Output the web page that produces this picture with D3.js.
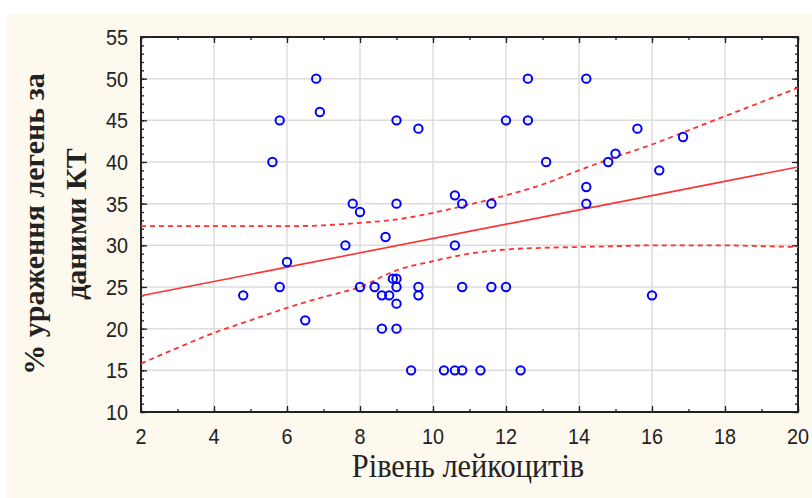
<!DOCTYPE html>
<html>
<head>
<meta charset="utf-8">
<script src="https://cdn.jsdelivr.net/npm/d3@7"></script>
<style>
  body { margin: 0; background: #fff; }
  .grid line { stroke: #dcdcdc; stroke-width: 1.5; }
  .axis path { display: none; }
  .axis line { stroke: #222; stroke-width: 1.3; }
  .ticklab text { font-family: "Liberation Sans", Arial, sans-serif; font-size: 22px; fill: #222; }
</style>
</head>
<body>
<div id="chart"></div>
<script>
// scatter data: leukocyte level vs % lung damage on CT
const leuko = [4.8, 5.6, 5.8, 5.8, 6.0, 6.5, 6.8, 6.9, 7.6, 7.8, 8.0, 8.0, 8.4, 8.6, 8.6, 8.7, 8.8,
  8.9, 9.0, 9.0, 9.0, 9.0, 9.0, 9.0, 9.4, 9.6, 9.6, 9.6, 10.3, 10.6, 10.8, 10.6, 10.6, 10.8, 10.8,
  11.3, 11.6, 11.6, 12.0, 12.0, 12.4, 12.6, 12.6, 13.1, 14.2, 14.2, 14.2, 14.8, 15.0, 15.6, 16.0, 16.2, 16.85];
const damage = [24, 40, 45, 25, 28, 21, 50, 46, 30, 35, 34, 25, 25, 24, 20, 31, 24,
  26, 26, 25, 23, 20, 35, 45, 15, 44, 25, 24, 15, 15, 15, 36, 30, 35, 25,
  15, 35, 25, 45, 25, 15, 50, 45, 40, 50, 37, 35, 40, 41, 44, 24, 39, 43];

// fitted line and 95% confidence band
const fitX = [2, 20];
const fitY = [23.95, 39.4];
const bandX = [2, 3, 4, 5, 6, 7, 8, 9, 10, 11, 12, 13, 14, 15, 16, 17, 18, 19, 20];
const upperY = [32.3, 32.3, 32.3, 32.3, 32.3, 32.4, 32.7, 33.1, 33.9, 34.9, 36.0, 37.3, 39.0, 40.6, 42.1, 43.8, 45.5, 47.2, 48.9];
const lowerY = [15.8, 17.7, 19.5, 21.0, 22.5, 23.8, 25.0, 27.0, 28.1, 29.0, 29.5, 29.7, 29.8, 29.9, 30.0, 30.0, 30.0, 29.9, 29.8];

const xTicks = [2, 4, 6, 8, 10, 12, 14, 16, 18, 20];
const yTicks = [10, 15, 20, 25, 30, 35, 40, 45, 50, 55];

const W = 812, H = 498;
const margin = { top: 37, right: 14, bottom: 86, left: 141 };
const width = W - margin.left - margin.right,
      height = H - margin.top - margin.bottom;

const x = d3.scaleLinear().domain([2, 20]).range([0, width]);
const y = d3.scaleLinear().domain([10, 55]).range([height, 0]);

const svg = d3.select('#chart').append('svg')
    .attr('width', W)
    .attr('height', H);

// beige page background
svg.append('rect')
    .attr('x', 7).attr('y', 14)
    .attr('width', W - 7).attr('height', H - 14)
    .attr('fill', '#fef9ee');

const g = svg.append('g')
    .attr('transform', 'translate(' + margin.left + ',' + margin.top + ')');

g.append('rect')
    .attr('width', width).attr('height', height)
    .attr('fill', '#fff');

// grid
g.append('g').attr('class', 'grid')
  .selectAll('line').data(xTicks.slice(1, -1)).enter().append('line')
    .attr('x1', d => x(d)).attr('x2', d => x(d))
    .attr('y1', 0).attr('y2', height);
g.append('g').attr('class', 'grid')
  .selectAll('line').data(yTicks.slice(1, -1)).enter().append('line')
    .attr('y1', d => y(d)).attr('y2', d => y(d))
    .attr('x1', 0).attr('x2', width);

// ticks pointing inwards on all four sides (major + minor)
const xMinor = d3.range(2, 20.5, 1);
const yMinor = d3.range(10, 55.5, 1);
function ticks(axisFn, scale, vals, size, tr) {
  g.append('g').attr('class', 'axis')
    .attr('transform', tr)
    .call(axisFn(scale).tickValues(vals).tickSize(-size).tickFormat(''));
}
ticks(d3.axisBottom, x, xMinor, 3, 'translate(0,' + height + ')');
ticks(d3.axisBottom, x, xTicks, 6, 'translate(0,' + height + ')');
ticks(d3.axisTop, x, xMinor, 3, 'translate(0,0)');
ticks(d3.axisTop, x, xTicks, 6, 'translate(0,0)');
ticks(d3.axisLeft, y, yMinor, 3, 'translate(0,0)');
ticks(d3.axisLeft, y, yTicks, 6, 'translate(0,0)');
ticks(d3.axisRight, y, yMinor, 3, 'translate(' + width + ',0)');
ticks(d3.axisRight, y, yTicks, 6, 'translate(' + width + ',0)');

// tick labels
g.append('g').attr('class', 'ticklab')
  .selectAll('text').data(xTicks).enter().append('text')
    .attr('transform', d => 'translate(' + x(d) + ',' + (height + 32) + ') scale(0.9,1)')
    .attr('text-anchor', 'middle')
    .text(d => d);
g.append('g').attr('class', 'ticklab')
  .selectAll('text').data(yTicks).enter().append('text')
    .attr('transform', d => 'translate(-13,' + (y(d) + 8) + ') scale(0.9,1)')
    .attr('text-anchor', 'end')
    .text(d => d);

// frame
g.append('rect')
    .attr('width', width).attr('height', height)
    .attr('fill', 'none').attr('stroke', '#222').attr('stroke-width', 2);

// regression line + confidence band
const line = d3.line()
    .x(d => x(d[0]))
    .y(d => y(d[1]))
    .curve(d3.curveMonotoneX);

g.append('path')
    .datum(fitX.map((v, i) => [v, fitY[i]]))
    .attr('d', line)
    .attr('fill', 'none').attr('stroke', '#ff3030').attr('stroke-width', 1.6);

[upperY, lowerY].forEach(function (band) {
  g.append('path')
      .datum(bandX.map((v, i) => [v, band[i]]))
      .attr('d', line)
      .attr('fill', 'none').attr('stroke', '#ff3030').attr('stroke-width', 1.8)
      .attr('stroke-dasharray', '5,4');
});

// points
g.append('g').selectAll('circle')
    .data(leuko.map((v, i) => [v, damage[i]]))
    .enter().append('circle')
    .attr('cx', d => x(d[0]))
    .attr('cy', d => y(d[1]))
    .attr('r', 4.2)
    .attr('fill', 'none')
    .attr('stroke', '#0000ff')
    .attr('stroke-width', 2);

// axis titles
svg.append('text')
    .attr('transform', 'translate(468,477) scale(0.92,1)')
    .attr('text-anchor', 'middle')
    .style('font-family', '"Liberation Serif", "Times New Roman", serif')
    .style('font-size', '33px')
    .style('fill', '#222')
    .text('Рівень лейкоцитів');

const ytitle = svg.append('text')
    .attr('transform', 'translate(0,224) rotate(-90)')
    .attr('text-anchor', 'middle')
    .style('font-family', '"Liberation Serif", "Times New Roman", serif')
    .style('font-size', '30px')
    .style('font-weight', 'bold')
    .style('fill', '#222');
ytitle.append('tspan').attr('x', 0).attr('y', 44).text('% ураження легень за');
ytitle.append('tspan').attr('x', 0).attr('y', 86).text('даними КТ');
</script>
</body>
</html>
